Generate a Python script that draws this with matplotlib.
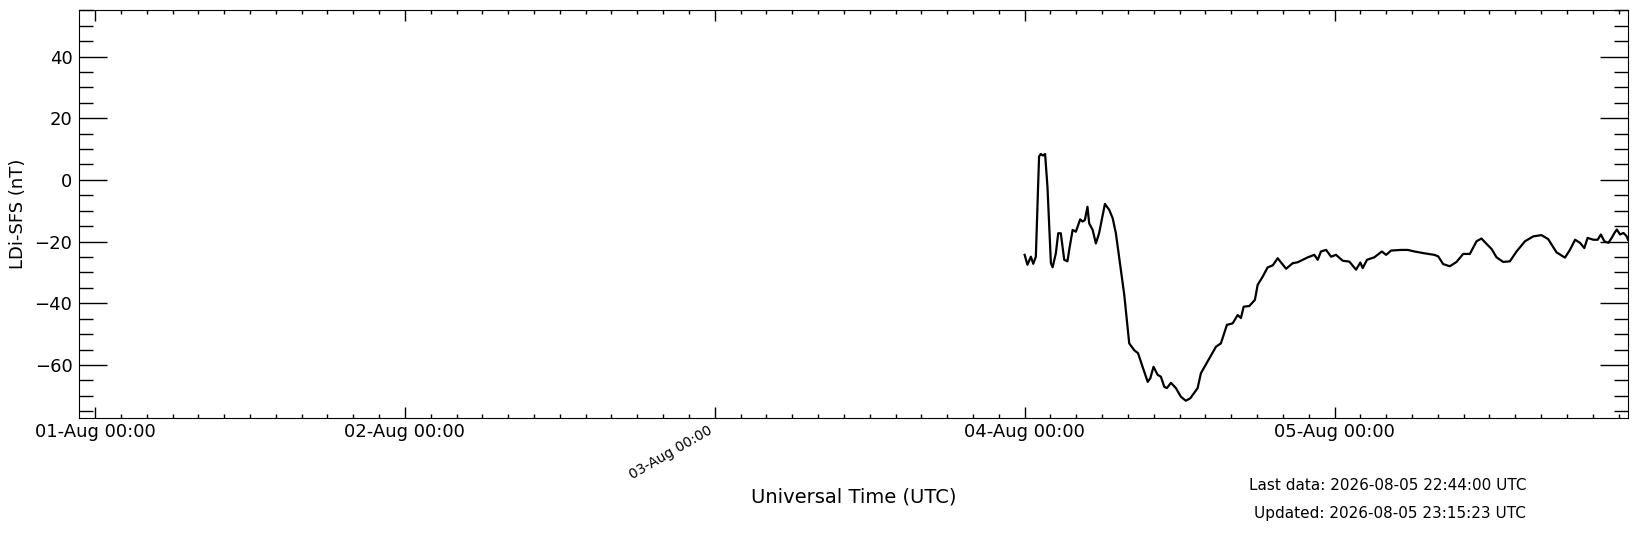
import matplotlib
matplotlib.use("Agg")
import matplotlib.pyplot as plt
import matplotlib.dates as mdates
import pandas as pd

# ---- data ----
times = [
    "2026-08-04 00:00", "2026-08-04 00:13", "2026-08-04 00:29", "2026-08-04 00:40",
    "2026-08-04 00:52", "2026-08-04 01:07", "2026-08-04 01:15", "2026-08-04 01:25",
    "2026-08-04 01:35", "2026-08-04 01:46", "2026-08-04 02:02", "2026-08-04 02:10",
    "2026-08-04 02:25", "2026-08-04 02:36", "2026-08-04 02:48", "2026-08-04 03:04",
    "2026-08-04 03:19", "2026-08-04 03:27", "2026-08-04 03:43", "2026-08-04 03:58",
    "2026-08-04 04:18", "2026-08-04 04:29", "2026-08-04 04:40", "2026-08-04 04:52",
    "2026-08-04 05:00", "2026-08-04 05:16", "2026-08-04 05:31", "2026-08-04 05:46",
    "2026-08-04 06:13", "2026-08-04 06:33", "2026-08-04 06:49", "2026-08-04 07:04",
    "2026-08-04 07:19", "2026-08-04 07:43", "2026-08-04 08:06", "2026-08-04 08:29",
    "2026-08-04 08:47", "2026-08-04 09:08", "2026-08-04 09:32", "2026-08-04 09:44",
    "2026-08-04 09:59", "2026-08-04 10:18", "2026-08-04 10:33", "2026-08-04 10:49",
    "2026-08-04 11:01", "2026-08-04 11:20", "2026-08-04 11:43", "2026-08-04 12:06",
    "2026-08-04 12:29", "2026-08-04 12:50", "2026-08-04 13:24", "2026-08-04 13:39",
    "2026-08-04 14:10", "2026-08-04 14:49", "2026-08-04 15:12", "2026-08-04 15:40",
    "2026-08-04 16:07", "2026-08-04 16:30", "2026-08-04 16:45", "2026-08-04 16:58",
    "2026-08-04 17:24", "2026-08-04 17:50", "2026-08-04 18:03", "2026-08-04 18:26",
    "2026-08-04 18:49", "2026-08-04 19:13", "2026-08-04 19:36", "2026-08-04 20:15",
    "2026-08-04 20:46", "2026-08-04 21:09", "2026-08-04 21:32", "2026-08-04 21:56",
    "2026-08-04 22:26", "2026-08-04 22:42", "2026-08-04 22:57", "2026-08-04 23:21",
    "2026-08-04 23:44", "2026-08-05 00:07", "2026-08-05 00:38", "2026-08-05 01:09",
    "2026-08-05 01:40", "2026-08-05 02:00", "2026-08-05 02:11", "2026-08-05 02:31",
    "2026-08-05 03:05", "2026-08-05 03:40", "2026-08-05 04:00", "2026-08-05 04:23",
    "2026-08-05 05:10", "2026-08-05 05:41", "2026-08-05 06:11", "2026-08-05 06:58",
    "2026-08-05 07:44", "2026-08-05 08:02", "2026-08-05 08:25", "2026-08-05 08:56",
    "2026-08-05 09:27", "2026-08-05 09:58", "2026-08-05 10:29", "2026-08-05 11:00",
    "2026-08-05 11:23", "2026-08-05 11:39", "2026-08-05 12:10", "2026-08-05 12:33",
    "2026-08-05 13:04", "2026-08-05 13:35", "2026-08-05 14:06", "2026-08-05 14:45",
    "2026-08-05 15:24", "2026-08-05 16:02", "2026-08-05 16:33", "2026-08-05 17:12",
    "2026-08-05 17:51", "2026-08-05 18:14", "2026-08-05 18:38", "2026-08-05 19:01",
    "2026-08-05 19:21", "2026-08-05 19:36", "2026-08-05 20:03", "2026-08-05 20:23",
    "2026-08-05 20:38", "2026-08-05 20:54", "2026-08-05 21:13", "2026-08-05 21:28",
    "2026-08-05 21:41", "2026-08-05 21:52", "2026-08-05 22:07", "2026-08-05 22:23",
    "2026-08-05 22:38", "2026-08-05 22:44",
]
ldi_sfs = [
    -24.3, -27.5, -24.9, -27.2,
    -24.9, 7.6, 8.4, 7.9,
    8.4, -2.2, -27.0, -28.3,
    -23.8, -17.3, -17.3, -25.9,
    -26.4, -22.7, -16.2, -16.8,
    -12.8, -13.5, -13.0, -8.7,
    -14.1, -16.2, -20.6, -17.3,
    -7.8, -9.7, -12.4, -17.3,
    -24.9, -37.3, -53.0, -55.2,
    -56.2, -60.6, -65.5, -64.3,
    -60.6, -63.2, -63.8, -67.1,
    -67.5, -65.8, -67.5, -70.3,
    -71.6, -70.8, -67.5, -62.7,
    -58.9, -54.1, -53.0, -47.0,
    -46.5, -43.8, -44.8, -41.1,
    -40.9, -38.9, -34.0, -31.4,
    -28.4, -27.7, -25.4, -28.8,
    -27.0, -26.7, -25.9, -25.1,
    -24.3, -25.9, -23.2, -22.7,
    -24.9, -24.3, -26.2, -26.5,
    -29.1, -26.8, -28.6, -25.9,
    -25.1, -23.2, -24.3, -22.9,
    -22.7, -22.7, -23.2, -23.8,
    -24.3, -24.8, -27.3, -28.0,
    -26.6, -24.0, -24.0, -19.9,
    -19.0, -20.2, -22.4, -25.1,
    -26.6, -26.4, -23.2, -19.9,
    -18.3, -17.9, -19.2, -23.5,
    -25.2, -22.7, -19.4, -20.4,
    -22.1, -18.8, -19.4, -19.4,
    -17.7, -19.9, -20.4, -18.8,
    -17.2, -16.1, -17.7, -17.2,
    -18.3, -19.4,
]
tick_dates = ["2026-08-01", "2026-08-02", "2026-08-03", "2026-08-04", "2026-08-05"]
tick_labels = ["01-Aug 00:00", "02-Aug 00:00", "03-Aug 00:00", "04-Aug 00:00", "05-Aug 00:00"]
last_data = "2026-08-05 22:44:00"
updated = "2026-08-05 23:15:23"
y_limits = (-77.3, 55.1)

# ---- figure ----
fig = plt.figure(figsize=(16.37, 5.33), dpi=100)
ax = fig.add_axes([0.04808, 0.21520, 0.94643, 0.76604])

t = pd.to_datetime(times)
ax.plot(t, ldi_sfs, color="black", lw=1.6)

t_last = pd.Timestamp(last_data)
ax.set_xlim(t_last - pd.Timedelta(days=5), t_last)
ax.set_ylim(*y_limits)

ax.set_xticks(pd.to_datetime(tick_dates), tick_labels)
ax.xaxis.set_minor_locator(mdates.HourLocator(byhour=range(0, 24, 2)))
ax.yaxis.set_major_locator(matplotlib.ticker.MultipleLocator(20))
ax.yaxis.set_minor_locator(matplotlib.ticker.MultipleLocator(5))

ax.tick_params(axis="both", which="both", direction="in", top=True, right=True)
ax.tick_params(axis="x", which="major", length=7.7, width=1.0, labelsize=13, pad=3.5)
ax.tick_params(axis="x", which="minor", length=3.1, width=1.0)
ax.tick_params(axis="y", which="major", length=20, width=1.0, labelsize=13, pad=4.5)
ax.tick_params(axis="y", which="minor", length=10, width=1.0)

lbls = ax.get_xticklabels()
lbls[2].set_rotation(30)
lbls[2].set_fontsize(10)
lbls[2].set_ha("right")

ax.set_ylabel("LDi-SFS (nT)", fontsize=13)
ax.yaxis.set_label_coords(-0.0392, 0.5)
ax.yaxis.label.set_va("center")
ax.set_xlabel("Universal Time (UTC)", fontsize=14)
ax.xaxis.set_label_coords(0.5, -0.193)
ax.xaxis.label.set_va("center")

fig.text(0.9322, 1 - 490 / 533, f"Last data: {last_data} UTC", ha="right", va="baseline", fontsize=11)
fig.text(0.9322, 1 - 518.3 / 533, f"Updated: {updated} UTC", ha="right", va="baseline", fontsize=11)

fig.savefig("out.png", dpi=100)
